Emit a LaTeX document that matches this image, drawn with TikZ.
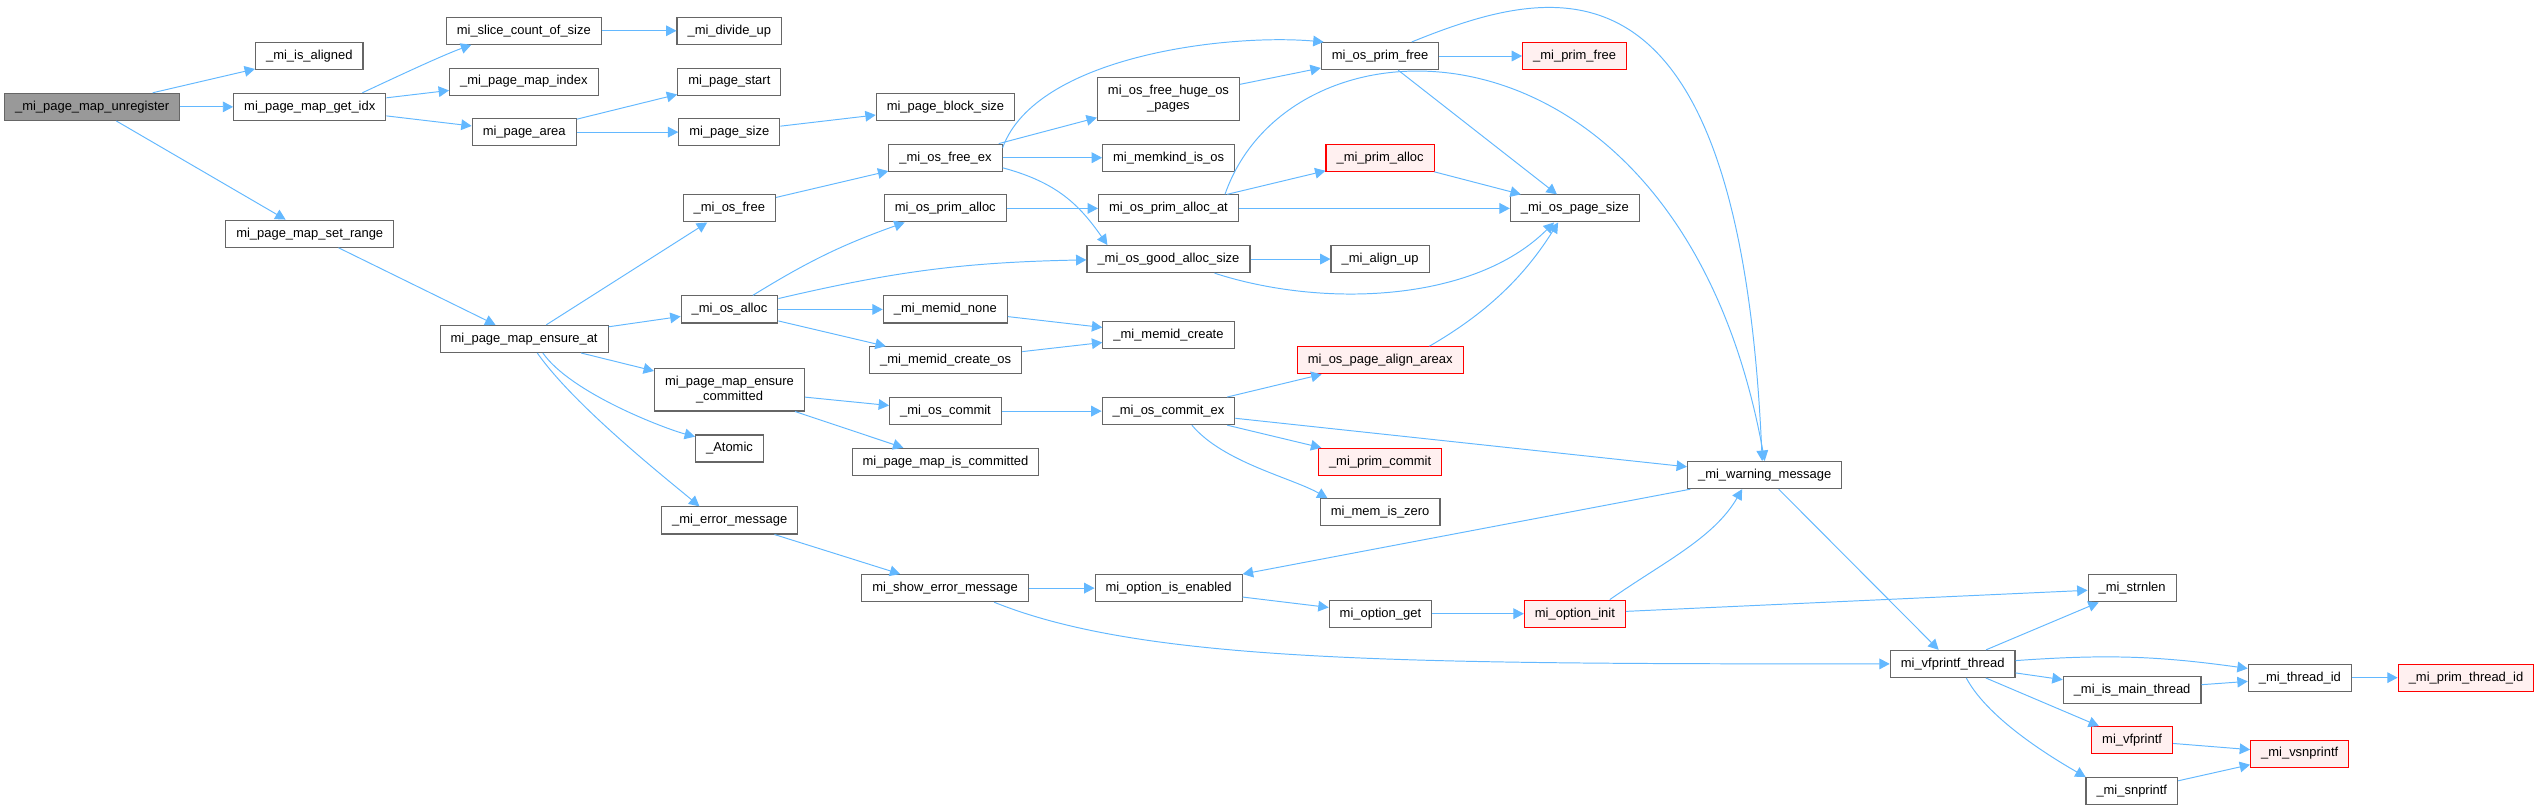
\documentclass[tikz,border=0pt]{standalone}
\usepackage{fontspec}
\setmainfont{Liberation Sans}
\usetikzlibrary{arrows.meta}
\definecolor{edgeblue}{HTML}{63B8FF}
\definecolor{boxgrey}{HTML}{666666}
\definecolor{rootfill}{HTML}{999999}
\definecolor{extfill}{HTML}{FFF0F0}
\begin{document}
\begin{tikzpicture}[x=1pt,y=1pt,
  fn/.style={draw=boxgrey,fill=white,line width=0.7pt,font=\fontsize{8}{9.6}\selectfont,
    inner xsep=6.5pt,inner ysep=0pt,minimum height=16.7pt,align=center},
  root/.style={fn,fill=rootfill},
  ext/.style={fn,draw=red,fill=extfill},
  twoline/.style={minimum height=26.4pt},
  call/.style={draw=edgeblue,line width=0.6pt,-{Triangle[length=6.4pt,width=6.6pt]}}]
\useasboundingbox (0,0) rectangle (1568,-500);
\node[root] (unreg) at (56.9,-66) {\_mi\_page\_map\_unregister};
\node[fn] (isal) at (191,-34.8) {\_mi\_is\_aligned};
\node[fn] (getidx) at (191.3,-66) {mi\_page\_map\_get\_idx};
\node[fn] (setrange) at (191.3,-144.3) {mi\_page\_map\_set\_range};
\node[fn] (slice) at (323.5,-19) {mi\_slice\_count\_of\_size};
\node[fn] (pmindex) at (323.5,-50.4) {\_mi\_page\_map\_index};
\node[fn] (parea) at (323.7,-81.6) {mi\_page\_area};
\node[fn] (ensureat) at (323.7,-209.3) {mi\_page\_map\_ensure\_at};
\node[fn] (divup) at (450.4,-19) {\_mi\_divide\_up};
\node[fn] (pstart) at (450.4,-50.4) {mi\_page\_start};
\node[fn] (psize) at (450.4,-81.6) {mi\_page\_size};
\node[fn] (osfree) at (450.4,-128.7) {\_mi\_os\_free};
\node[fn] (osalloc) at (450.5,-191.1) {\_mi\_os\_alloc};
\node[fn,twoline] (ensurecom) at (450.5,-240.6) {mi\_page\_map\_ensure\\\_committed};
\node[fn] (atomic) at (450.5,-277) {\_Atomic};
\node[fn] (errmsg) at (450.6,-321.4) {\_mi\_error\_message};
\node[fn] (pblock) at (583.9,-66) {mi\_page\_block\_size};
\node[fn] (osfreeex) at (583.9,-97.4) {\_mi\_os\_free\_ex};
\node[fn] (osprimalloc) at (583.8,-128.7) {mi\_os\_prim\_alloc};
\node[fn] (memidnone) at (583.8,-191.1) {\_mi\_memid\_none};
\node[fn] (memidcreateos) at (584,-222.5) {\_mi\_memid\_create\_os};
\node[fn] (oscommit) at (583.9,-253.9) {\_mi\_os\_commit};
\node[fn] (ismapcom) at (583.9,-285.2) {mi\_page\_map\_is\_committed};
\node[fn] (showerr) at (583.6,-363.2) {mi\_show\_error\_message};
\node[fn,twoline] (hugepages) at (721.6,-61) {mi\_os\_free\_huge\_os\\\_pages};
\node[fn] (memkind) at (721.7,-97.4) {mi\_memkind\_is\_os};
\node[fn] (osprimallocat) at (721.6,-128.7) {mi\_os\_prim\_alloc\_at};
\node[fn] (goodalloc) at (721.6,-160) {\_mi\_os\_good\_alloc\_size};
\node[fn] (memidcreate) at (721.6,-206.9) {\_mi\_memid\_create};
\node[fn] (oscommitex) at (721.6,-253.9) {\_mi\_os\_commit\_ex};
\node[fn] (optenabled) at (721.7,-363.2) {mi\_option\_is\_enabled};
\node[fn] (osprimfree) at (852.3,-34.6) {mi\_os\_prim\_free};
\node[ext] (primalloc) at (852.3,-97.4) {\_mi\_prim\_alloc};
\node[fn] (alignup) at (852.3,-160) {\_mi\_align\_up};
\node[ext] (pagealign) at (852.4,-222.5) {mi\_os\_page\_align\_areax};
\node[ext] (primcommit) at (852.3,-285.2) {\_mi\_prim\_commit};
\node[fn] (memiszero) at (852.3,-316.4) {mi\_mem\_is\_zero};
\node[fn] (optget) at (852.5,-379) {mi\_option\_get};
\node[ext] (primfree) at (972.4,-34.6) {\_mi\_prim\_free};
\node[fn] (ospagesize) at (972.6,-128.7) {\_mi\_os\_page\_size};
\node[ext] (optinit) at (972.6,-379) {mi\_option\_init};
\node[fn] (warning) at (1089.8,-293.4) {\_mi\_warning\_message};
\node[fn] (vfthread) at (1205.9,-410) {mi\_vfprintf\_thread};
\node[fn] (strnlen) at (1316.7,-363.3) {\_mi\_strnlen};
\node[fn] (ismain) at (1316.7,-425.9) {\_mi\_is\_main\_thread};
\node[ext] (mivfprintf) at (1316.7,-457.1) {mi\_vfprintf};
\node[fn] (snprintf) at (1316.5,-488.6) {\_mi\_snprintf};
\node[fn] (threadid) at (1420.3,-418.5) {\_mi\_thread\_id};
\node[ext] (vsnprintf) at (1420.2,-465.4) {\_mi\_vsnprintf};
\node[ext] (primthreadid) at (1522.9,-418.5) {\_mi\_prim\_thread\_id};
\draw[call] (unreg) -- (isal);
\draw[call] (unreg) -- (getidx);
\draw[call] (unreg) -- (setrange);
\draw[call] (getidx.15) .. controls +(25:20) and +(200:20) .. (slice.195);
\draw[call] (getidx) -- (pmindex);
\draw[call] (getidx) -- (parea);
\draw[call] (slice) -- (divup);
\draw[call] (parea) -- (pstart);
\draw[call] (parea) -- (psize);
\draw[call] (psize) -- (pblock);
\draw[call] (setrange) -- (ensureat);
\draw[call] (ensureat) -- (osfree);
\draw[call] (ensureat) -- (osalloc);
\draw[call] (ensureat) -- (ensurecom);
\draw[call] (ensureat.-37) .. controls +(-55:30) and +(165:20) .. (atomic.161);
\draw[call] (ensureat.-47) .. controls +(-55:40) and +(140:25) .. (errmsg.155);
\draw[call] (osfree) -- (osfreeex);
\draw[call] (osfreeex.10) .. controls +(70:60) and +(175:60) .. (osprimfree.166);
\draw[call] (osfreeex) -- (hugepages);
\draw[call] (osfreeex) -- (memkind);
\draw[call] (osfreeex.-10) .. controls +(-15:35) and +(125:30) .. (goodalloc.167);
\draw[call] (hugepages) -- (osprimfree);
\draw[call] (osprimfree) -- (primfree);
\draw[call] (osprimfree) -- (ospagesize);
\draw[call] (osprimfree.24) .. controls +(22:96) and +(92.5:324) .. (warning.100);
\draw[call] (osalloc) to[bend left=6] (osprimalloc);
\draw[call] (osalloc) to[bend left=6] (goodalloc);
\draw[call] (osalloc) -- (memidnone);
\draw[call] (osalloc) -- (memidcreateos);
\draw[call] (osprimalloc) -- (osprimallocat);
\draw[call] (osprimallocat) -- (primalloc);
\draw[call] (osprimallocat) -- (ospagesize);
\draw[call] (osprimallocat.14) .. controls +(70.8:127) and +(100.3:289) .. (warning.north);
\draw[call] (primalloc) -- (ospagesize);
\draw[call] (goodalloc) -- (alignup);
\draw[call] (goodalloc.-17) .. controls +(-18:70) and +(225:70) .. (ospagesize.-146);
\draw[call] (memidnone) -- (memidcreate);
\draw[call] (memidcreateos) -- (memidcreate);
\draw[call] (ensurecom) -- (oscommit);
\draw[call] (ensurecom) -- (ismapcom);
\draw[call] (oscommit) -- (oscommitex);
\draw[call] (oscommitex) -- (pagealign);
\draw[call] (oscommitex) -- (primcommit);
\draw[call] (oscommitex.-31) .. controls +(-50:30) and +(150:25) .. (memiszero.165);
\draw[call] (oscommitex) -- (warning);
\draw[call] (pagealign.16) .. controls +(30:40) and +(238:40) .. (ospagesize.-140);
\draw[call] (errmsg) -- (showerr);
\draw[call] (showerr) -- (optenabled);
\draw[call] (showerr.-16) .. controls +(-22:100) and +(180:300) .. (vfthread.west);
\draw[call] (optenabled) -- (optget);
\draw[call] (optget) -- (optinit);
\draw[call] (optinit.22) .. controls +(35:40) and +(240:35) .. (warning.212);
\draw[call] (optinit) -- (strnlen);
\draw[call] (warning) -- (optenabled);
\draw[call] (warning) -- (vfthread);
\draw[call] (vfthread) -- (strnlen);
\draw[call] (vfthread.3) to[bend left=6] (threadid.170);
\draw[call] (vfthread) -- (ismain);
\draw[call] (vfthread) -- (mivfprintf);
\draw[call] (vfthread.-46) .. controls +(-62:30) and +(150:20) .. (snprintf.163);
\draw[call] (ismain) -- (threadid);
\draw[call] (threadid) -- (primthreadid);
\draw[call] (mivfprintf) -- (vsnprintf);
\draw[call] (snprintf) -- (vsnprintf);
\end{tikzpicture}
\end{document}
